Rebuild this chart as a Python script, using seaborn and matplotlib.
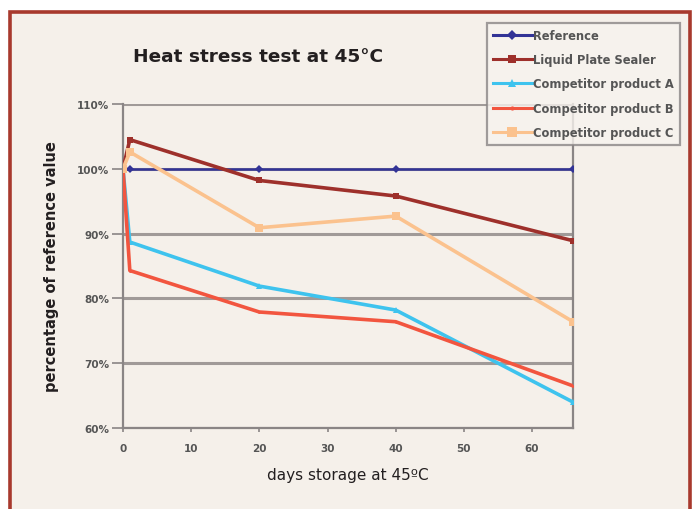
import pandas as pd
import seaborn as sns
import matplotlib.pyplot as plt
from matplotlib.patches import Rectangle
from matplotlib.lines import Line2D

# data
days = [0, 1, 20, 40, 66]
reference = [100, 100, 100, 100, 100]
liquid_sealer = [100, 104.5, 98.2, 95.8, 88.9]
product_a = [100, 88.7, 81.9, 78.2, 64.0]
product_b = [100, 84.3, 77.9, 76.4, 66.5]
product_c = [100, 102.6, 90.9, 92.7, 76.4]
names = ['Reference', 'Liquid Plate Sealer', 'Competitor product A',
         'Competitor product B', 'Competitor product C']
yticks = [60, 70, 80, 90, 100, 110]
xticks = [0, 10, 20, 30, 40, 50, 60]

rows = []
for name, vals in zip(names, [reference, liquid_sealer, product_a, product_b, product_c]):
    for d, v in zip(days, vals):
        rows.append({'days': d, 'pct': v, 'series': name})
df = pd.DataFrame(rows)

colors = ['#323396', '#9e302b', '#3ec3ee', '#f2553f', '#fbc28e']
markers = {names[0]: 'D', names[1]: 's', names[2]: '^', names[3]: 'o', names[4]: 's'}
msize = {names[0]: 4, names[1]: 5, names[2]: 5, names[3]: 2, names[4]: 6}

bg = '#f5f0ea'
fig = plt.figure(figsize=(6.92, 5.10), dpi=100)
fig.patch.set_facecolor('white')
fig.patches.append(Rectangle((10/692, -0.05), 680/692, 1.05 - 13/510, transform=fig.transFigure,
                             facecolor=bg, edgecolor='#a8392d', lw=2.6, zorder=-10))

ax = fig.add_axes([123/692, 1-429/510, 450/692, 324/510])
ax.set_facecolor(bg)
sns.lineplot(data=df, x='days', y='pct', hue='series', style='series', palette=colors,
             markers=markers, dashes=False, lw=2.6, markeredgewidth=0, ax=ax, legend=False,
             zorder=3)
# marker sizes per series
for line, name in zip(ax.get_lines(), names):
    line.set_markersize(msize[name])
ax.get_lines()[0].set_linewidth(1.8)

ax.set_xlim(0, 66)
ax.set_ylim(60, 110)
ax.set_yticks(yticks)
ax.set_yticklabels([f'{t}%' for t in yticks], fontsize=7.5, fontweight='bold', color='#555555')
ax.set_xticks(xticks)
ax.set_xticklabels([str(t) for t in xticks], fontsize=7.5, fontweight='bold', color='#555555')
ax.yaxis.grid(True, color='#a09a98', lw=2.2)
ax.set_axisbelow(True)
ax.tick_params(axis='y', length=8, width=1.2, color='#8a8585', pad=2)
ax.tick_params(axis='x', length=3, width=1.2, color='#8a8585', pad=8)
for s in ['left', 'bottom', 'right']:
    ax.spines[s].set_color('#8a8585')
    ax.spines[s].set_linewidth(1.6)
ax.spines['top'].set_visible(False)

ax.set_xlabel('days storage at 45ºC', fontsize=11, color='#231f20', labelpad=10)
ax.set_ylabel('percentage of reference value', fontsize=10.5, fontweight='bold', color='#231f20', labelpad=13)

fig.text(133/692, 1-57/510, 'Heat stress test at 45°C', fontsize=13.3, fontweight='bold',
         color='#231f20', va='center', ha='left')

# legend box
handles = [Line2D([0], [0], color=c, lw=2.2, marker=markers[n], markersize=msize[n] + 1,
                  markeredgewidth=0) for n, c in zip(names, colors)]
leg = fig.legend(handles, names, loc='upper left', bbox_to_anchor=(487/692, 1-24/510),
                 fontsize=8.3, frameon=True, fancybox=False, handlelength=3.4, handletextpad=0.1,
                 labelspacing=0.98, borderpad=0.5, borderaxespad=0)
leg.get_frame().set_edgecolor('#8a8585')
leg.get_frame().set_linewidth(1.6)
leg.get_frame().set_facecolor('#f7f3ee')
for t in leg.get_texts():
    t.set_color('#555555')
    t.set_fontweight('bold')

fig.savefig('out.png', dpi=100, facecolor=fig.get_facecolor())
